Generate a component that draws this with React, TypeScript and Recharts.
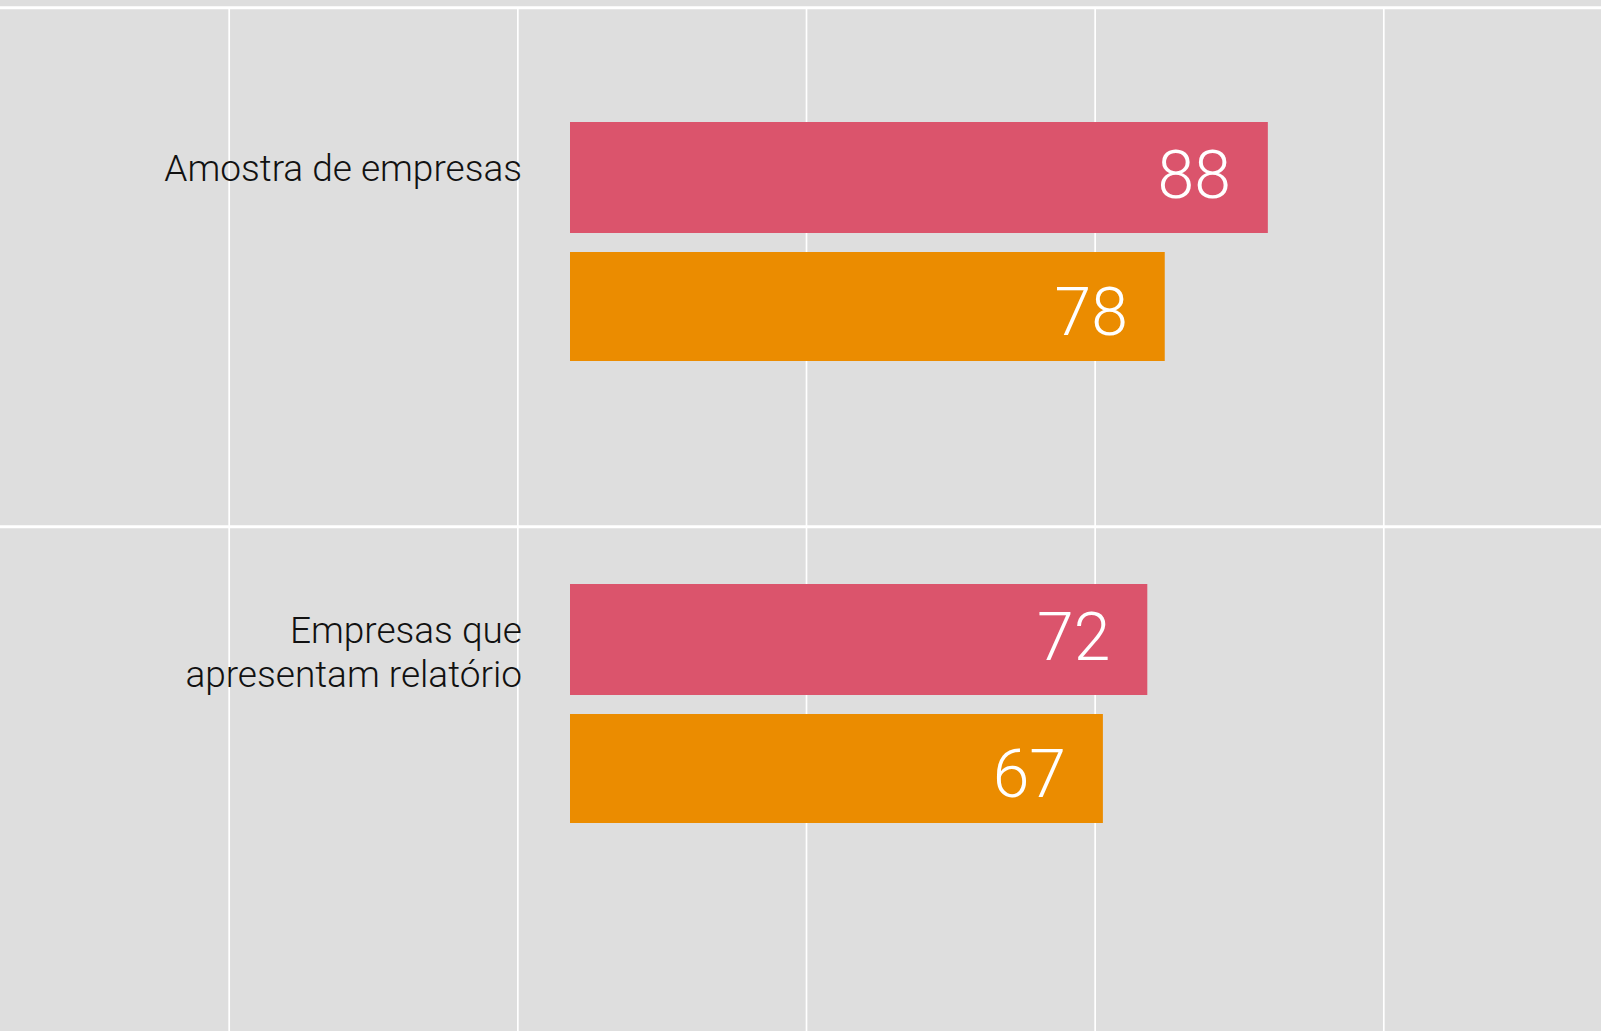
import { BarChart, Bar, XAxis, YAxis, CartesianGrid, LabelList } from 'recharts';

const categories = ['Amostra de empresas', 'Empresas que\napresentam relatório'];
const redValues = [88, 72.8];
const orangeValues = [75, 67.2];
const redLabels = ['88', '72'];
const orangeLabels = ['78', '67'];
const gridTicksX = [1, 2, 3, 4, 5];

const data = categories.map((name, i) => ({
  name,
  red: redValues[i],
  orange: orangeValues[i],
  redLabel: redLabels[i],
  orangeLabel: orangeLabels[i]
}));

const W = 1601;
const H = 1031;
const BG = '#dedede';
const RED = '#db546c';
const ORANGE = '#eb8c00';
const FONT = "Roboto, 'Liberation Sans', sans-serif";

// value axis: zero sits at x=570, ~7.93px per unit
const ZERO_X = 570;
const PX_PER_UNIT = 7.93;
const valueDomain = [-ZERO_X / PX_PER_UNIT, (W - ZERO_X) / PX_PER_UNIT];

// background grid is not tied to the values
const GRID_STEP_X = 288.65;
const GRID_FIRST_X = 229.2;
const gridDomainX = [1 - GRID_FIRST_X / GRID_STEP_X, 1 + (W - GRID_FIRST_X) / GRID_STEP_X];
const panelLinesY = [7.8, 526.8];

function CategoryTick(props: any) {
  const { y, payload } = props;
  const lines = String(payload.value).split('\n');
  return (
    <text x={522} y={y - 60} textAnchor="end" fontSize={37} fontWeight={300} fontFamily={FONT} fill="#111111">
      {lines.map((line, i) => (
        <tspan key={i} x={522} dy={i === 0 ? 0 : 44}>
          {line}
        </tspan>
      ))}
    </text>
  );
}

const valueLabel = (dy: number) => (props: any) => {
  const box = props.viewBox ?? props;
  return (
    <text
      x={box.x + box.width - 37}
      y={box.y + box.height / 2 + dy}
      textAnchor="end"
      fontSize={66}
      fontWeight={300}
      fontFamily={FONT}
      fill="#ffffff"
    >
      {props.value}
    </text>
  );
};

export default function App() {
  return (
    <div style={{ position: 'absolute', left: 0, top: 0, width: W, height: H, background: BG }}>
      <BarChart
        width={W}
        height={H}
        data={data}
        layout="vertical"
        barGap={19}
        margin={{ top: 0, right: 0, bottom: 0, left: 0 }}
      >
        <XAxis xAxisId="bars" type="number" domain={valueDomain} allowDataOverflow hide />
        <XAxis xAxisId="grid" type="number" domain={gridDomainX} ticks={gridTicksX} allowDataOverflow hide />
        <YAxis
          yAxisId="cats"
          type="category"
          dataKey="name"
          mirror
          width={570}
          padding={{ top: 10, bottom: 97 }}
          axisLine={false}
          tickLine={false}
          tick={(p: any) => <CategoryTick {...p} />}
        />
        <CartesianGrid
          xAxisId="grid"
          yAxisId="cats"
          horizontal={false}
          vertical
          syncWithTicks
          stroke="#ffffff"
          strokeWidth={1.7}
          y={9}
          height={H - 9}
        />
        <CartesianGrid
          xAxisId="grid"
          yAxisId="cats"
          horizontal
          vertical={false}
          horizontalPoints={panelLinesY}
          stroke="#ffffff"
          strokeWidth={3}
        />
        <Bar xAxisId="bars" yAxisId="cats" dataKey="red" fill={RED} barSize={111} isAnimationActive={false}>
          <LabelList dataKey="redLabel" content={valueLabel(20)} />
        </Bar>
        <Bar xAxisId="bars" yAxisId="cats" dataKey="orange" fill={ORANGE} barSize={109} isAnimationActive={false}>
          <LabelList dataKey="orangeLabel" content={valueLabel(28)} />
        </Bar>
      </BarChart>
    </div>
  );
}
